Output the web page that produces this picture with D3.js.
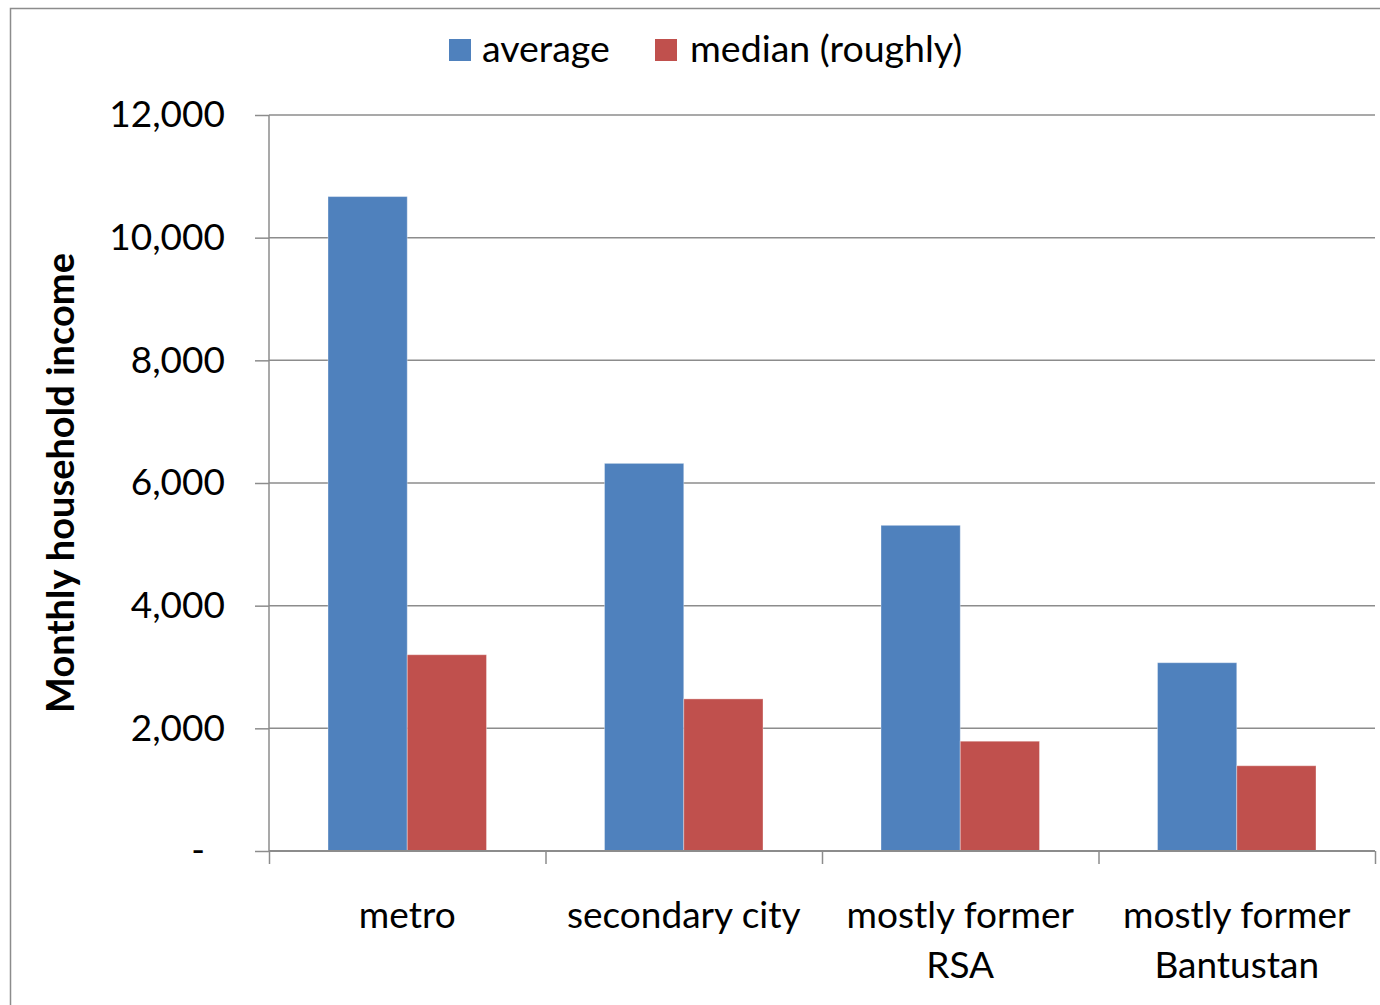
<!DOCTYPE html>
<html>
<head>
<meta charset="utf-8">
<script src="https://cdn.jsdelivr.net/npm/d3@7"></script>
<style>
  html, body { margin: 0; padding: 0; background: #fff; }
  svg { display: block; font-family: Lato, "Open Sans", sans-serif; }
</style>
</head>
<body>
<svg id="chart" width="1380" height="1005"></svg>
<script>
// Monthly household income by settlement type
const categories = [["metro"], ["secondary city"], ["mostly former", "RSA"], ["mostly former", "Bantustan"]];
const seriesNames = ["average", "median (roughly)"];
const averageValues = [10670, 6320, 5310, 3070];
const medianValues = [3200, 2480, 1790, 1390];
const yTicks = [0, 2000, 4000, 6000, 8000, 10000, 12000];
const colors = ["#4F81BD", "#C0504D"];

const svg = d3.select("#chart");
const margin = { left: 269, right: 5, top: 115, bottom: 154 };
const W = 1380, H = 1005;
const plotW = W - margin.left - margin.right;
const plotH = H - margin.top - margin.bottom;

// outer chart frame
svg.append("rect")
  .attr("x", 10.5).attr("y", 8.5)
  .attr("width", 1400).attr("height", 1100)
  .attr("fill", "#fff").attr("stroke", "#8c8c8c").attr("stroke-width", 1.5);

const g = svg.append("g").attr("transform", `translate(${margin.left},${margin.top})`);

const x0 = d3.scaleBand().domain(d3.range(categories.length)).range([0, plotW]).paddingInner(0).paddingOuter(0);
const x1 = d3.scaleBand().domain([0, 1]).range([59, x0.bandwidth() - 59]);
const y = d3.scaleLinear().domain([0, 12000]).range([plotH, 0]);

// horizontal gridlines
g.append("g").selectAll("line").data(yTicks.filter(d => d > 0)).join("line")
  .attr("x1", 0).attr("x2", plotW)
  .attr("y1", d => y(d)).attr("y2", d => y(d))
  .attr("stroke", "#8c8c8c").attr("stroke-width", 1.5);

// bars
const data = categories.map((c, i) => [averageValues[i], medianValues[i]]);
const groups = g.append("g").selectAll("g").data(data).join("g")
  .attr("transform", (d, i) => `translate(${x0(i)},0)`);
groups.selectAll("rect").data(d => d.map((v, s) => ({ v, s }))).join("rect")
  .attr("x", d => x1(d.s))
  .attr("width", x1.bandwidth())
  .attr("y", d => y(d.v))
  .attr("height", d => plotH - y(d.v))
  .attr("fill", d => colors[d.s])
  .attr("stroke", "rgba(255,255,255,0.35)")
  .attr("stroke-width", 1);

// y axis
const yAxis = d3.axisLeft(y).tickValues(yTicks)
  .tickFormat(d => d === 0 ? "-" : d3.format(",")(d))
  .tickSize(14).tickPadding(30);
const ya = g.append("g").call(yAxis);
ya.select(".domain").attr("stroke", "#8c8c8c").attr("stroke-width", 1.5).attr("d", `M0,0V${plotH}`);
ya.selectAll(".tick line").attr("stroke", "#8c8c8c").attr("stroke-width", 1.5);
ya.selectAll(".tick text").attr("font-size", 37).attr("fill", "#000")
  .attr("font-family", "Lato, sans-serif");
ya.selectAll(".tick text").filter(d => d === 0).attr("dx", -20);

// x axis with tick marks at category boundaries
const xb = d3.scaleLinear().domain([0, categories.length]).range([0, plotW]);
const xa = g.append("g").attr("transform", `translate(0,${plotH})`)
  .call(d3.axisBottom(xb).ticks(categories.length).tickSize(13).tickFormat(""));
xa.select(".domain").attr("stroke", "#8c8c8c").attr("stroke-width", 2).attr("d", `M0,0H${plotW}`);
xa.selectAll(".tick line").attr("stroke", "#8c8c8c").attr("stroke-width", 1.5);

// category labels
const labels = g.append("g").selectAll("text").data(categories).join("text")
  .attr("x", (d, i) => x0(i) + x0.bandwidth() / 2)
  .attr("y", plotH + 77)
  .attr("text-anchor", "middle")
  .attr("font-size", 37)
  .attr("fill", "#000");
labels.selectAll("tspan").data(d => d).join("tspan")
  .attr("x", function () { return d3.select(this.parentNode).attr("x"); })
  .attr("dy", (d, i) => i === 0 ? 0 : 50)
  .text(d => d);

// y axis title
svg.append("text")
  .attr("transform", "translate(74,483) rotate(-90)")
  .attr("text-anchor", "middle")
  .attr("font-size", 38)
  .attr("font-weight", "bold")
  .attr("fill", "#000")
  .text("Monthly household income");

// legend
const legendItems = [{ x: 449, tx: 482 }, { x: 655, tx: 690 }];
const lg = svg.append("g");
legendItems.forEach((p, i) => {
  lg.append("rect").attr("x", p.x).attr("y", 39).attr("width", 22).attr("height", 22).attr("fill", colors[i]);
  lg.append("text").attr("x", p.tx).attr("y", 62).attr("font-size", 37.5).attr("fill", "#000").text(seriesNames[i]);
});
</script>
</body>
</html>
